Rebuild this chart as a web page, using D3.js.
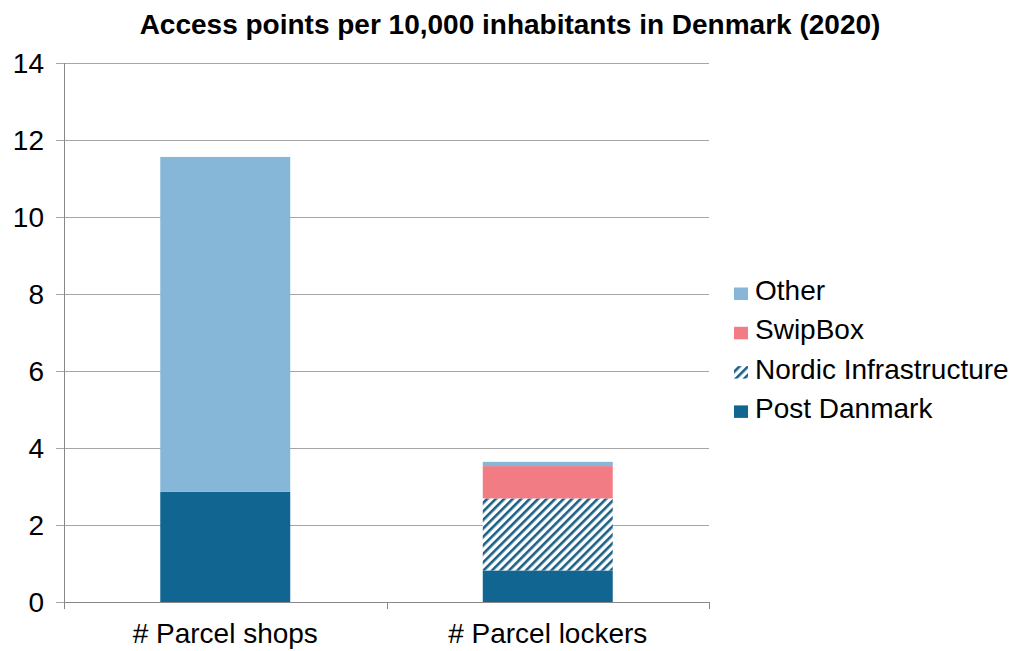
<!DOCTYPE html>
<html><head><meta charset="utf-8">
<script src="https://cdn.jsdelivr.net/npm/d3@7"></script>
<style>body{margin:0;background:#fff;} svg{display:block;font-family:"Liberation Sans",Arial,sans-serif;}</style>
</head><body>
<svg id="c" width="1013" height="651"></svg>
<script>
const categories = ["# Parcel shops", "# Parcel lockers"];
const seriesNames = ["Post Danmark", "Nordic Infrastructure", "SwipBox", "Other"];
const postDanmark = [2.86, 0.82];
const nordicInfra = [0, 1.87];
const swipBox = [0, 0.84];
const other = [8.70, 0.11];
const yTicks = [0, 2, 4, 6, 8, 10, 12, 14];
const title = "Access points per 10,000 inhabitants in Denmark (2020)";

const colors = {"Post Danmark":"#106591","Nordic Infrastructure":"url(#hatch)","SwipBox":"#f27c84","Other":"#86b6d8"};
const svg = d3.select("#c");
const defs = svg.append("defs");
const pat = defs.append("pattern").attr("id","hatch").attr("patternUnits","userSpaceOnUse")
  .attr("width",6).attr("height",6).attr("patternTransform","rotate(45)");
pat.append("rect").attr("width",6).attr("height",6).attr("fill","#fff");
pat.append("rect").attr("x",0).attr("width",2.6).attr("height",6).attr("fill","#1a5f85");

const m = {l:64, r:709, t:63, b:602};
const x = d3.scaleBand().domain(categories).range([m.l, m.r]).paddingInner(0.597).paddingOuter(0.2985);
const y = d3.scaleLinear().domain([0,14]).range([m.b, m.t]);

const rows = categories.map((c,i)=>({cat:c,"Post Danmark":postDanmark[i],"Nordic Infrastructure":nordicInfra[i],"SwipBox":swipBox[i],"Other":other[i]}));
const stack = d3.stack().keys(seriesNames)(rows);

// gridlines
svg.append("g").selectAll("line").data(yTicks).join("line")
  .attr("x1",m.l-8).attr("x2",m.r).attr("y1",d=>Math.round(y(d))+0.5).attr("y2",d=>Math.round(y(d))+0.5)
  .attr("stroke","#a6a6a6").attr("stroke-width",1);

// bars
svg.append("g").selectAll("g").data(stack).join("g")
  .attr("fill",d=>colors[d.key])
  .selectAll("rect").data(d=>d).join("rect")
  .attr("x",d=>x(d.data.cat)).attr("width",x.bandwidth())
  .attr("y",d=>y(d[1])).attr("height",d=>Math.max(0,y(d[0])-y(d[1])));

// axes lines
svg.append("line").attr("x1",m.l+0.5).attr("x2",m.l+0.5).attr("y1",m.t).attr("y2",m.b).attr("stroke","#888").attr("stroke-width",1);
svg.append("line").attr("x1",m.l).attr("x2",m.r).attr("y1",m.b+0.5).attr("y2",m.b+0.5).attr("stroke","#888").attr("stroke-width",1);
const xt = [m.l, (m.l+m.r)/2, m.r];
svg.append("g").selectAll("line").data(xt).join("line")
  .attr("x1",d=>Math.round(d)+0.5).attr("x2",d=>Math.round(d)+0.5).attr("y1",m.b).attr("y2",m.b+7)
  .attr("stroke","#888");

// y labels
svg.append("g").selectAll("text").data(yTicks).join("text")
  .attr("x",44).attr("y",d=>y(d)+10).attr("text-anchor","end")
  .attr("font-size",28).attr("fill","#000").text(d=>d);

// x labels
svg.append("g").selectAll("text").data(categories).join("text")
  .attr("x",d=>x(d)+x.bandwidth()/2).attr("y",643).attr("text-anchor","middle")
  .attr("font-size",28).attr("fill","#000").text(d=>d);

// title
svg.append("text").attr("x",510).attr("y",34).attr("text-anchor","middle")
  .attr("font-size",28).attr("font-weight","bold").attr("fill","#000").text(title);

// legend
const legendOrder = ["Other","SwipBox","Nordic Infrastructure","Post Danmark"];
const lg = svg.append("g").selectAll("g").data(legendOrder).join("g")
  .attr("transform",(d,i)=>`translate(734,${300+i*39.3})`);
lg.append("rect").attr("x",0).attr("y",-12.5).attr("width",14).attr("height",12.5).attr("fill",d=>colors[d]);
lg.append("text").attr("x",21).attr("y",0).attr("font-size",28).attr("fill","#000").text(d=>d);
</script>
</body></html>
